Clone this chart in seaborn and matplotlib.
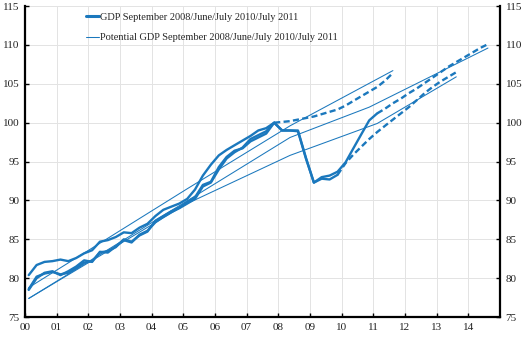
import numpy as np
import pandas as pd
import matplotlib
matplotlib.use("Agg")
import matplotlib.pyplot as plt
import matplotlib.dates as mdates
from matplotlib.lines import Line2D
import seaborn as sns

# GDP outcome + forecast, three vintages (quarterly, index)
sep08_start = "2000Q1"
gdp_sep08 = [80.4, 81.7, 82.1, 82.2, 82.4, 82.2, 82.6, 83.2,
             83.6, 84.7, 84.9, 85.3, 85.9, 85.8, 86.5, 87.0,
             88.0, 88.8, 89.2, 89.6, 90.2, 91.4, 93.2, 94.6,
             95.8, 96.5, 97.1, 97.7, 98.3, 99.0, 99.3, 100.0]
sep08_fc_start = "2007Q4"
gdp_sep08_fc = [100.0, 100.1, 100.2, 100.4, 100.6, 100.8, 101.1, 101.4,
                101.7, 102.2, 102.8, 103.4, 104.0, 104.6, 105.4, 106.4]

jun10_start = "2000Q1"
gdp_jun10 = [78.6, 80.2, 80.6, 80.8, 80.5, 80.7, 81.3, 82.0,
             82.2, 83.3, 83.5, 84.0, 85.0, 84.7, 85.5, 86.0,
             87.4, 88.0, 88.6, 89.1, 89.8, 90.4, 92.0, 92.4,
             94.3, 95.6, 96.4, 96.7, 97.6, 98.1, 98.6, 100.0,
             99.0, 99.0, 99.0, 95.5, 92.3, 92.8, 92.7, 93.3]
jun10_fc_start = "2009Q4"
gdp_jun10_fc = [93.3, 94.8, 95.9, 96.9, 97.9, 98.8, 99.6, 100.4,
                101.2, 102.0, 102.9, 103.8, 104.6, 105.3, 105.9, 106.5]

jul11_start = "2000Q1"
gdp_jul11 = [78.5, 80.0, 80.7, 80.9, 80.4, 80.9, 81.5, 82.3,
             82.1, 83.4, 83.3, 84.1, 84.9, 84.6, 85.6, 86.1,
             87.2, 87.9, 88.5, 89.0, 89.6, 90.2, 91.8, 92.3,
             94.0, 95.4, 96.2, 96.8, 97.9, 98.4, 98.9, 100.0,
             99.0, 99.0, 98.9, 95.4, 92.3, 93.0, 93.2, 93.7,
             94.9, 96.7, 98.5, 100.3, 101.2]
jul11_fc_start = "2011Q1"
gdp_jul11_fc = [101.2, 101.8, 102.5, 103.1, 103.8, 104.4, 105.1, 105.8,
                106.5, 107.2, 107.8, 108.4, 109.0, 109.6, 110.1]

# potential GDP, read at a few quarters
pot_sep08_q = ["2000Q1", "2005Q1", "2008Q2", "2011Q3"]
pot_sep08 = [78.8, 91.5, 99.6, 106.7]
pot_jun10_q = ["2000Q1", "2005Q1", "2008Q2", "2011Q1", "2013Q3"]
pot_jun10 = [77.4, 89.6, 95.8, 99.9, 105.9]
pot_jul11_q = ["2000Q1", "2008Q2", "2010Q4", "2014Q3"]
pot_jul11 = [77.4, 98.1, 102.0, 109.6]

legend_labels = ["GDP September 2008/June/July 2010/July 2011",
                 "Potential GDP September 2008/June/July 2010/July 2011"]

blue = "#1B78BD"


def qdates(start, n):
    return pd.period_range(start, periods=n, freq="Q").to_timestamp(how="start") + pd.Timedelta(days=45)


def qlist(labels):
    return pd.PeriodIndex(labels, freq="Q").to_timestamp(how="start") + pd.Timedelta(days=45)


sns.set_theme(style="whitegrid")
plt.rcParams["font.family"] = ["Liberation Serif", "DejaVu Serif"]

fig = plt.figure(figsize=(5.28, 3.37), dpi=100)
ax = fig.add_axes([0.047, 0.059, 0.9, 0.923])

thick = 1.7
thin = 0.75
dash = (0, (2.6, 1.4))

# potential
for q, v in [(pot_sep08_q, pot_sep08), (pot_jun10_q, pot_jun10), (pot_jul11_q, pot_jul11)]:
    sns.lineplot(x=qlist(q), y=v, ax=ax, color=blue, linewidth=thin)

# GDP outcomes
for s, v in [(sep08_start, gdp_sep08), (jun10_start, gdp_jun10), (jul11_start, gdp_jul11)]:
    sns.lineplot(x=qdates(s, len(v)), y=v, ax=ax, color=blue, linewidth=thick)

# GDP forecasts
for s, v in [(sep08_fc_start, gdp_sep08_fc), (jun10_fc_start, gdp_jun10_fc), (jul11_fc_start, gdp_jul11_fc)]:
    sns.lineplot(x=qdates(s, len(v)), y=v, ax=ax, color=blue, linewidth=thick, linestyle=dash)

ax.set_xlim(pd.Timestamp("2000-01-01"), pd.Timestamp("2015-01-01"))
ax.set_ylim(75, 115)
ax.set_yticks(np.arange(75, 116, 5))
ax.xaxis.set_major_locator(mdates.YearLocator(1))
ax.xaxis.set_major_formatter(mdates.DateFormatter("%y"))
ticks = ax.get_xticks()
ax.set_xticks(ticks[:-1] if len(ticks) > 15 else ticks)

ax.grid(True, color="#e3e3e3", linewidth=0.7)
ax.set_facecolor("white")
for side in ["left", "right", "bottom"]:
    ax.spines[side].set_visible(True)
    ax.spines[side].set_color("black")
    ax.spines[side].set_linewidth(1.6)
ax.spines["top"].set_visible(False)

ax.tick_params(axis="both", direction="in", length=3, width=1, color="black",
               labelsize=8, labelcolor="#222222", pad=4)
ax.tick_params(axis="y", left=True, right=True, labelleft=True, labelright=True)
ax.tick_params(axis="x", bottom=True)
ax.set_xlabel("")
ax.set_ylabel("")

handles = [Line2D([], [], color=blue, linewidth=2.2),
           Line2D([], [], color=blue, linewidth=thin)]
ax.legend(handles, legend_labels, loc="upper left", bbox_to_anchor=(0.125, 0.985),
          frameon=False, fontsize=7.5, handlelength=1.2, handletextpad=0.15,
          labelspacing=1.05, borderpad=0.2, borderaxespad=0)

fig.savefig("out.png", dpi=100, facecolor="white")
